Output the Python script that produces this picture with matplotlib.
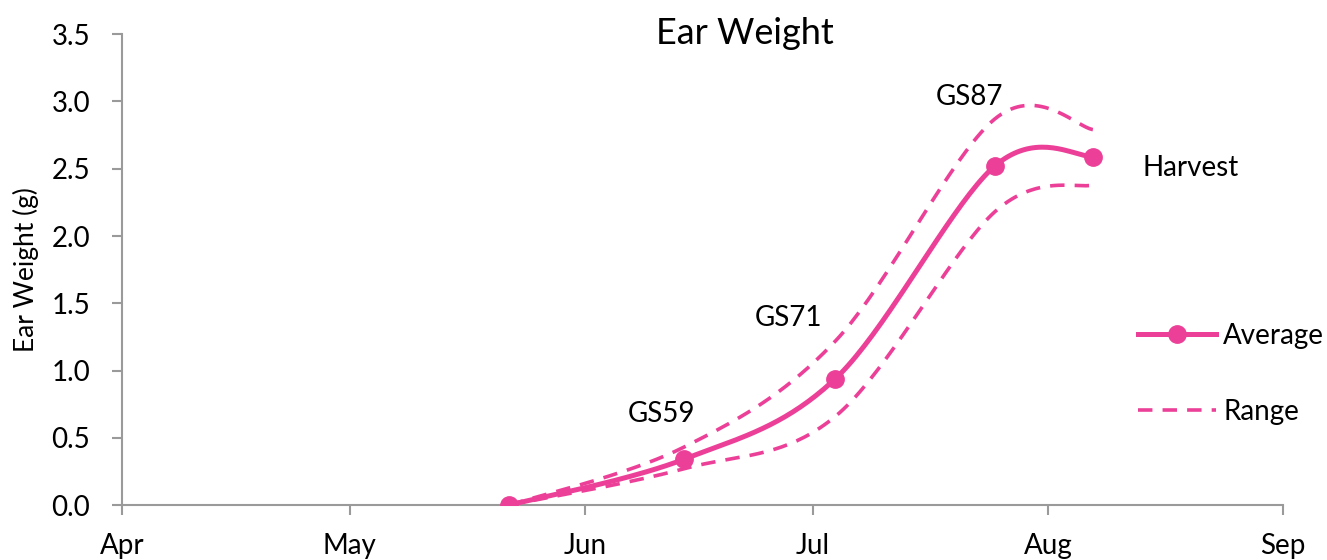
import numpy as np
import matplotlib
matplotlib.use("Agg")
import matplotlib.pyplot as plt
import matplotlib.dates as mdates

plt.rcParams['font.family'] = ['Lato', 'DejaVu Sans']

# datos
fechas = ['2023-05-22', '2023-06-14', '2023-07-04', '2023-07-25', '2023-08-07']
media = [0.0, 0.34, 0.94, 2.52, 2.59]
rango_sup = [0.0, 0.43, 1.22, 2.87, 2.79]
rango_inf = [0.0, 0.27, 0.66, 2.18, 2.38]
etapas = ['GS59', 'GS71', 'GS87', 'Harvest']

rosa = '#EC4098'
gris = '#9A9A9A'


# suavizado tipo Excel (Catmull-Rom con bezier)
def suavizar(x, y, n=40):
    p = np.column_stack([x, y]).astype(float)
    p = np.vstack([p[0], p, p[-1]])
    salida = []
    for i in range(1, len(p) - 2):
        p0, p1, p2, p3 = p[i - 1], p[i], p[i + 1], p[i + 2]
        c1 = p1 + (p2 - p0) / 6
        c2 = p2 - (p3 - p1) / 6
        t = np.linspace(0, 1, n)[:, None]
        b = (1 - t) ** 3 * p1 + 3 * (1 - t) ** 2 * t * c1 + 3 * (1 - t) * t ** 2 * c2 + t ** 3 * p2
        salida.append(b if i == 1 else b[1:])
    s = np.vstack(salida)
    return s[:, 0], s[:, 1]


x = mdates.date2num(np.array(fechas, dtype='datetime64[D]'))

fig = plt.figure(figsize=(13.27, 5.6), dpi=100)
ax = fig.add_axes([0.092, 0.098, 0.875, 0.841])

guion = (0, (4.0, 2.8))
xs, ys = suavizar(x, rango_sup)
ax.plot(xs, ys, color=rosa, lw=2.6, ls=guion, label='Range')
xs, ys = suavizar(x, rango_inf)
ax.plot(xs, ys, color=rosa, lw=2.6, ls=guion)
xs, ys = suavizar(x, media)
ax.plot(xs, ys, color=rosa, lw=3.6, zorder=3)
ax.plot(x, media, 'o', color=rosa, ms=12.5, zorder=4)
ax.plot([], [], color=rosa, lw=3.6, marker='o', ms=12.5, label='Average')

desplaz = [(-16, 33), (-34, 44), (-18, 50), (70, -8)]
for et, xi, yi, d in zip(etapas, x[1:], media[1:], desplaz):
    ax.annotate(et, (xi, yi), xytext=d, textcoords='offset points',
                ha='center', va='center', fontsize=20)

ax.set_xlim(mdates.datestr2num('2023-04-01'), mdates.datestr2num('2023-09-01'))
ax.set_ylim(0, 3.5)
ax.set_yticks(np.arange(0, 3.51, 0.5))
ax.yaxis.set_major_formatter(plt.FormatStrFormatter('%.1f'))
ax.xaxis.set_major_locator(mdates.MonthLocator())
ax.xaxis.set_major_formatter(mdates.DateFormatter('%b'))
ax.tick_params(labelsize=20, color=gris, width=1.5, length=7)
ax.tick_params(axis='x', pad=13)
ax.tick_params(axis='y', pad=16)
for lado in ['top', 'right']:
    ax.spines[lado].set_visible(False)
for lado in ['left', 'bottom']:
    ax.spines[lado].set_color(gris)
    ax.spines[lado].set_linewidth(1.5)

fig.text(0.561, 0.941, 'Ear Weight', fontsize=26, ha='center', va='center')
ax.set_ylabel('Ear Weight (g)', fontsize=19, labelpad=9)

h, l = ax.get_legend_handles_labels()
fig.legend(h[::-1], l[::-1], loc='center left', bbox_to_anchor=(0.839, 0.332),
           frameon=False, fontsize=20, handlelength=2.8, handletextpad=0.25,
           labelspacing=1.8)

fig.savefig('out.png', dpi=100)
